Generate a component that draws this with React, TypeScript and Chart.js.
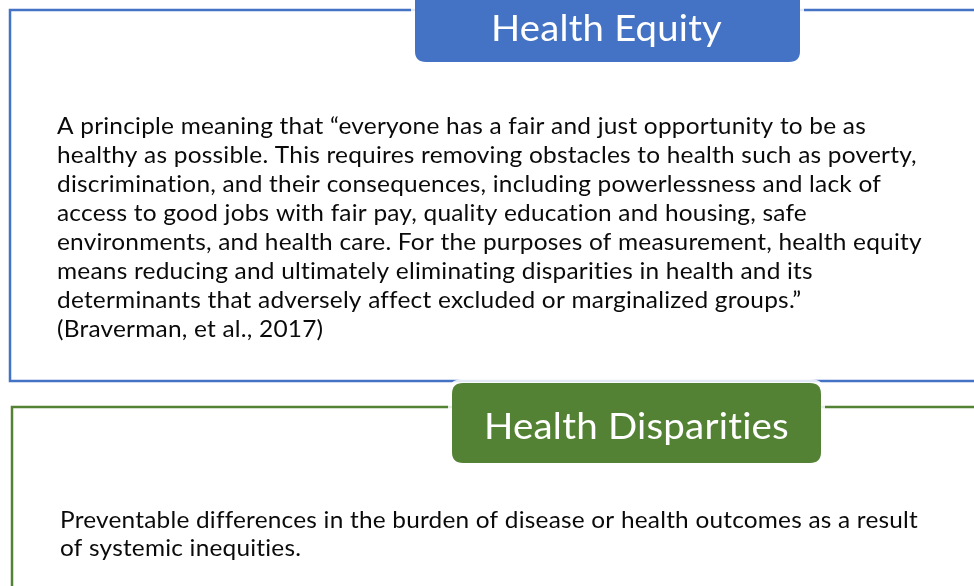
import React, { useEffect, useRef } from "react";
import { Chart, registerables } from "chart.js";

Chart.register(...registerables);

const equityTitle = "Health Equity";
const equityLines = [
  "A principle meaning that \u201ceveryone has a fair and just opportunity to be as",
  "healthy as possible. This requires removing obstacles to health such as poverty,",
  "discrimination, and their consequences, including powerlessness and lack of",
  "access to good jobs with fair pay, quality education and housing, safe",
  "environments, and health care. For the purposes of measurement, health equity",
  "means reducing and ultimately eliminating disparities in health and its",
  "determinants that adversely affect excluded or marginalized groups.\u201d",
  "(Braverman, et al., 2017)",
];
const disparitiesTitle = "Health Disparities";
const disparitiesLines = [
  "Preventable differences in the burden of disease or health outcomes as a result",
  "of systemic inequities.",
];

const BLUE = "#4472C4";
const GREEN = "#548235";
const FONT = "Lato, 'Open Sans', 'Noto Sans', sans-serif";

function roundRect(ctx: CanvasRenderingContext2D, x: number, y: number, w: number, h: number, r: number) {
  ctx.beginPath();
  ctx.moveTo(x + r, y);
  ctx.lineTo(x + w - r, y);
  ctx.quadraticCurveTo(x + w, y, x + w, y + r);
  ctx.lineTo(x + w, y + h - r);
  ctx.quadraticCurveTo(x + w, y + h, x + w - r, y + h);
  ctx.lineTo(x + r, y + h);
  ctx.quadraticCurveTo(x, y + h, x, y + h - r);
  ctx.lineTo(x, y + r);
  ctx.quadraticCurveTo(x, y, x + r, y);
  ctx.closePath();
}

function fitText(ctx: CanvasRenderingContext2D, text: string, x: number, y: number, size: number, targetW: number, sx: number | null) {
  ctx.font = `${size}px ${FONT}`;
  (ctx as any).letterSpacing = "0.2px";
  const w = ctx.measureText(text).width;
  const s = sx ?? targetW / w;
  ctx.save();
  ctx.translate(x, y);
  ctx.scale(s, 1);
  ctx.fillText(text, 0, 0);
  ctx.restore();
  return s;
}

const slidePlugin = {
  id: "slide",
  afterDraw(chart: any) {
    const ctx: CanvasRenderingContext2D = chart.ctx;
    ctx.save();
    ctx.fillStyle = "#ffffff";
    ctx.fillRect(0, 0, chart.width, chart.height);

    // outlines
    ctx.lineWidth = 2.5;
    ctx.strokeStyle = BLUE;
    ctx.strokeRect(10, 10, 1000, 371);
    ctx.strokeStyle = GREEN;
    ctx.strokeRect(12, 407, 1000, 300);

    // title boxes
    const box = (x: number, y: number, w: number, h: number, color: string) => {
      roundRect(ctx, x, y, w, h, 11);
      ctx.lineWidth = 8;
      ctx.strokeStyle = "rgba(255,255,255,0.85)";
      ctx.stroke();
      ctx.fillStyle = color;
      ctx.fill();
    };
    box(415, -14, 385, 76, BLUE);
    box(452, 383, 369, 80, GREEN);

    ctx.fillStyle = "#ffffff";
    ctx.textBaseline = "alphabetic";
    ctx.textAlign = "left";
    fitText(ctx, equityTitle, 491, 41, 36, 231, null);
    fitText(ctx, disparitiesTitle, 484, 439, 36, 305, null);

    ctx.fillStyle = "#0a0a0a";
    let s: number | null = null;
    equityLines.forEach((t, i) => {
      const r = fitText(ctx, t, 57, 134 + i * 29, 22.5, 809, s);
      if (s === null) s = r;
    });
    let s2: number | null = null;
    disparitiesLines.forEach((t, i) => {
      const r = fitText(ctx, t, 60, 528 + i * 28, 22.5, 858, s2);
      if (s2 === null) s2 = r;
    });
    ctx.restore();
  },
};

export default function App() {
  const ref = useRef<HTMLCanvasElement | null>(null);
  useEffect(() => {
    const prevMargin = document.body.style.margin;
    document.body.style.margin = "0";
    if (!ref.current) return;
    const chart = new Chart(ref.current, {
      type: "bar",
      data: { labels: [], datasets: [] },
      options: {
        animation: false,
        responsive: false,
        events: [],
        plugins: { legend: { display: false }, tooltip: { enabled: false }, title: { display: false } },
        scales: { x: { display: false }, y: { display: false } },
      },
      plugins: [slidePlugin],
    });
    return () => {
      chart.destroy();
      document.body.style.margin = prevMargin;
    };
  }, []);
  return (
    <div style={{ position: "fixed", left: 0, top: 0, width: 974, height: 586 }}>
      <canvas ref={ref} width={974} height={586} style={{ display: "block" }} />
    </div>
  );
}
